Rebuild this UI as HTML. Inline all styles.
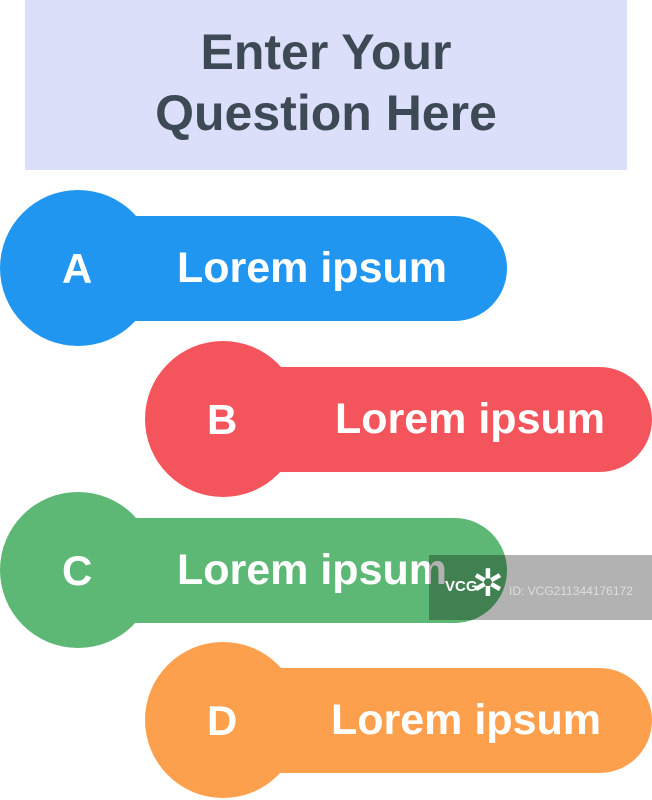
<!DOCTYPE html>
<html><head><meta charset="utf-8"><style>
body{margin:0;width:652px;height:800px;background:#fff;position:relative;overflow:hidden;font-family:"Liberation Sans",sans-serif;}
.hdr{position:absolute;left:25px;top:0;width:602px;height:170px;background:#dcdff9;color:#3d4a56;font-weight:bold;font-size:50px;text-align:center;line-height:61px;padding-top:22px;box-sizing:border-box;}
.c{position:absolute;width:156px;height:156px;border-radius:50%;}
.b{position:absolute;height:105px;border-radius:53px;}
.t{position:absolute;color:#fff;font-weight:bold;font-size:43px;line-height:44px;white-space:nowrap;}
.l{position:absolute;color:#fff;font-weight:bold;font-size:42px;line-height:42px;}
</style></head><body>
<div class="hdr">Enter Your<br>Question Here</div>

<div class="c" style="left:0;top:190px;background:#2196f0"></div>
<div class="b" style="left:60px;top:216px;width:447px;background:#2196f0"></div>
<div class="l" style="left:62px;top:248px">A</div>
<div class="t" style="left:177px;top:246px">Lorem ipsum</div>

<div class="c" style="left:145px;top:341px;background:#f4545b"></div>
<div class="b" style="left:200px;top:367px;width:452px;background:#f4545b"></div>
<div class="l" style="left:207px;top:399px">B</div>
<div class="t" style="left:335px;top:397px">Lorem ipsum</div>

<div class="c" style="left:0;top:492px;background:#5cb874"></div>
<div class="b" style="left:60px;top:518px;width:447px;background:#5cb874"></div>
<div class="l" style="left:62px;top:550px">C</div>
<div class="t" style="left:177px;top:548px">Lorem ipsum</div>

<div class="c" style="left:145px;top:642px;background:#fda04e"></div>
<div class="b" style="left:200px;top:668px;width:452px;background:#fda04e"></div>
<div class="l" style="left:207px;top:700px">D</div>
<div class="t" style="left:331px;top:698px">Lorem ipsum</div>

<div style="position:absolute;left:429px;top:555px;width:223px;height:65px;background:rgba(0,0,0,0.3)"></div>
<div style="position:absolute;left:445px;top:578px;color:#fff;font-weight:bold;font-size:15px">VCG</div>
<div style="position:absolute;left:472px;top:566px;width:36px;height:36px;color:#fff;font-size:38px;line-height:36px">✲</div>
<div style="position:absolute;left:509px;top:584px;color:#ddd;font-size:12px">ID: VCG211344176172</div>
</body></html>
